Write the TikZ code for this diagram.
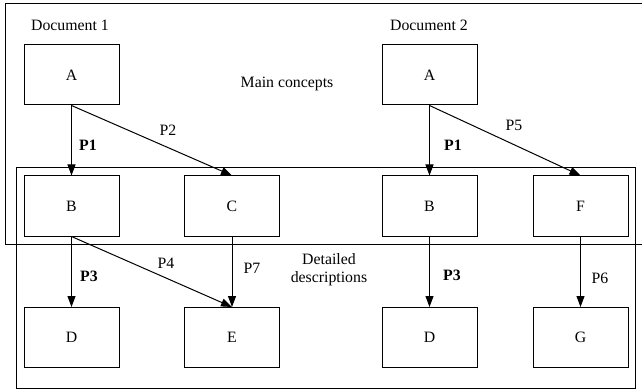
\documentclass[tikz,border=0pt]{standalone}
\usepackage{fontspec}
\setmainfont{Liberation Serif}
\usetikzlibrary{arrows.meta}
\begin{document}
\begin{tikzpicture}[x=1pt,y=-1pt,
  box/.style={draw,line width=1pt,minimum width=95pt,minimum height=60pt,inner sep=0pt,font=\fontsize{15.8}{18}\selectfont},
  lbl/.style={font=\fontsize{15.8}{18}\selectfont,inner sep=0pt},
  blbl/.style={font=\fontsize{15.8}{18}\selectfont\bfseries,inner sep=0pt},
  conn/.style={line width=1pt,-{Triangle[length=11pt,width=8pt]}},
  frame/.style={line width=1pt}]
\useasboundingbox (0,0) rectangle (642,390);
% region frames
\draw[frame] (643,4) -- (5,4) -- (5,244) -- (643,244);
\draw[frame] (16,168) rectangle (635,388);
% document 1
\node[box] (a1) at (71.5,75) {A};
\node[box] (b1) at (71.5,206) {B};
\node[box] (c1) at (232,206) {C};
\node[box] (d1) at (71.5,337.5) {D};
\node[box] (e1) at (232,337.5) {E};
% document 2
\node[box] (a2) at (429.5,75) {A};
\node[box] (b2) at (429.5,206) {B};
\node[box] (f2) at (580.5,206) {F};
\node[box] (d2) at (429.5,337.5) {D};
\node[box] (g2) at (580.5,337.5) {G};
% headings
\node[lbl] (doc1) at (70,25) {Document 1};
\node[lbl] (doc2) at (429,25) {Document 2};
\node[lbl] (main) at (287,84) {Main concepts};
\node[lbl,align=center] (detail) at (329,270) {Detailed\\descriptions};
% connectors
\draw[conn] (a1.south) -- (b1.north);
\draw[conn] (a1.south) -- (c1.north);
\draw[conn] (b1.south) -- (d1.north);
\draw[conn] (b1.south) -- (e1.north);
\draw[conn] (c1.south) -- (e1.north);
\draw[conn] (a2.south) -- (b2.north);
\draw[conn] (a2.south) -- (f2.north);
\draw[conn] (b2.south) -- (d2.north);
\draw[conn] (f2.south) -- (g2.north);
% connector labels
\node[blbl] (p1a) at (88,145) {P1};
\node[lbl] (p2) at (168,130) {P2};
\node[blbl] (p3a) at (89,276) {P3};
\node[lbl] (p4) at (166,263) {P4};
\node[lbl] (p7) at (252,268) {P7};
\node[blbl] (p1b) at (453,145) {P1};
\node[lbl] (p5) at (514,125) {P5};
\node[blbl] (p3b) at (452,275) {P3};
\node[lbl] (p6) at (600,278) {P6};
\end{tikzpicture}
\end{document}
